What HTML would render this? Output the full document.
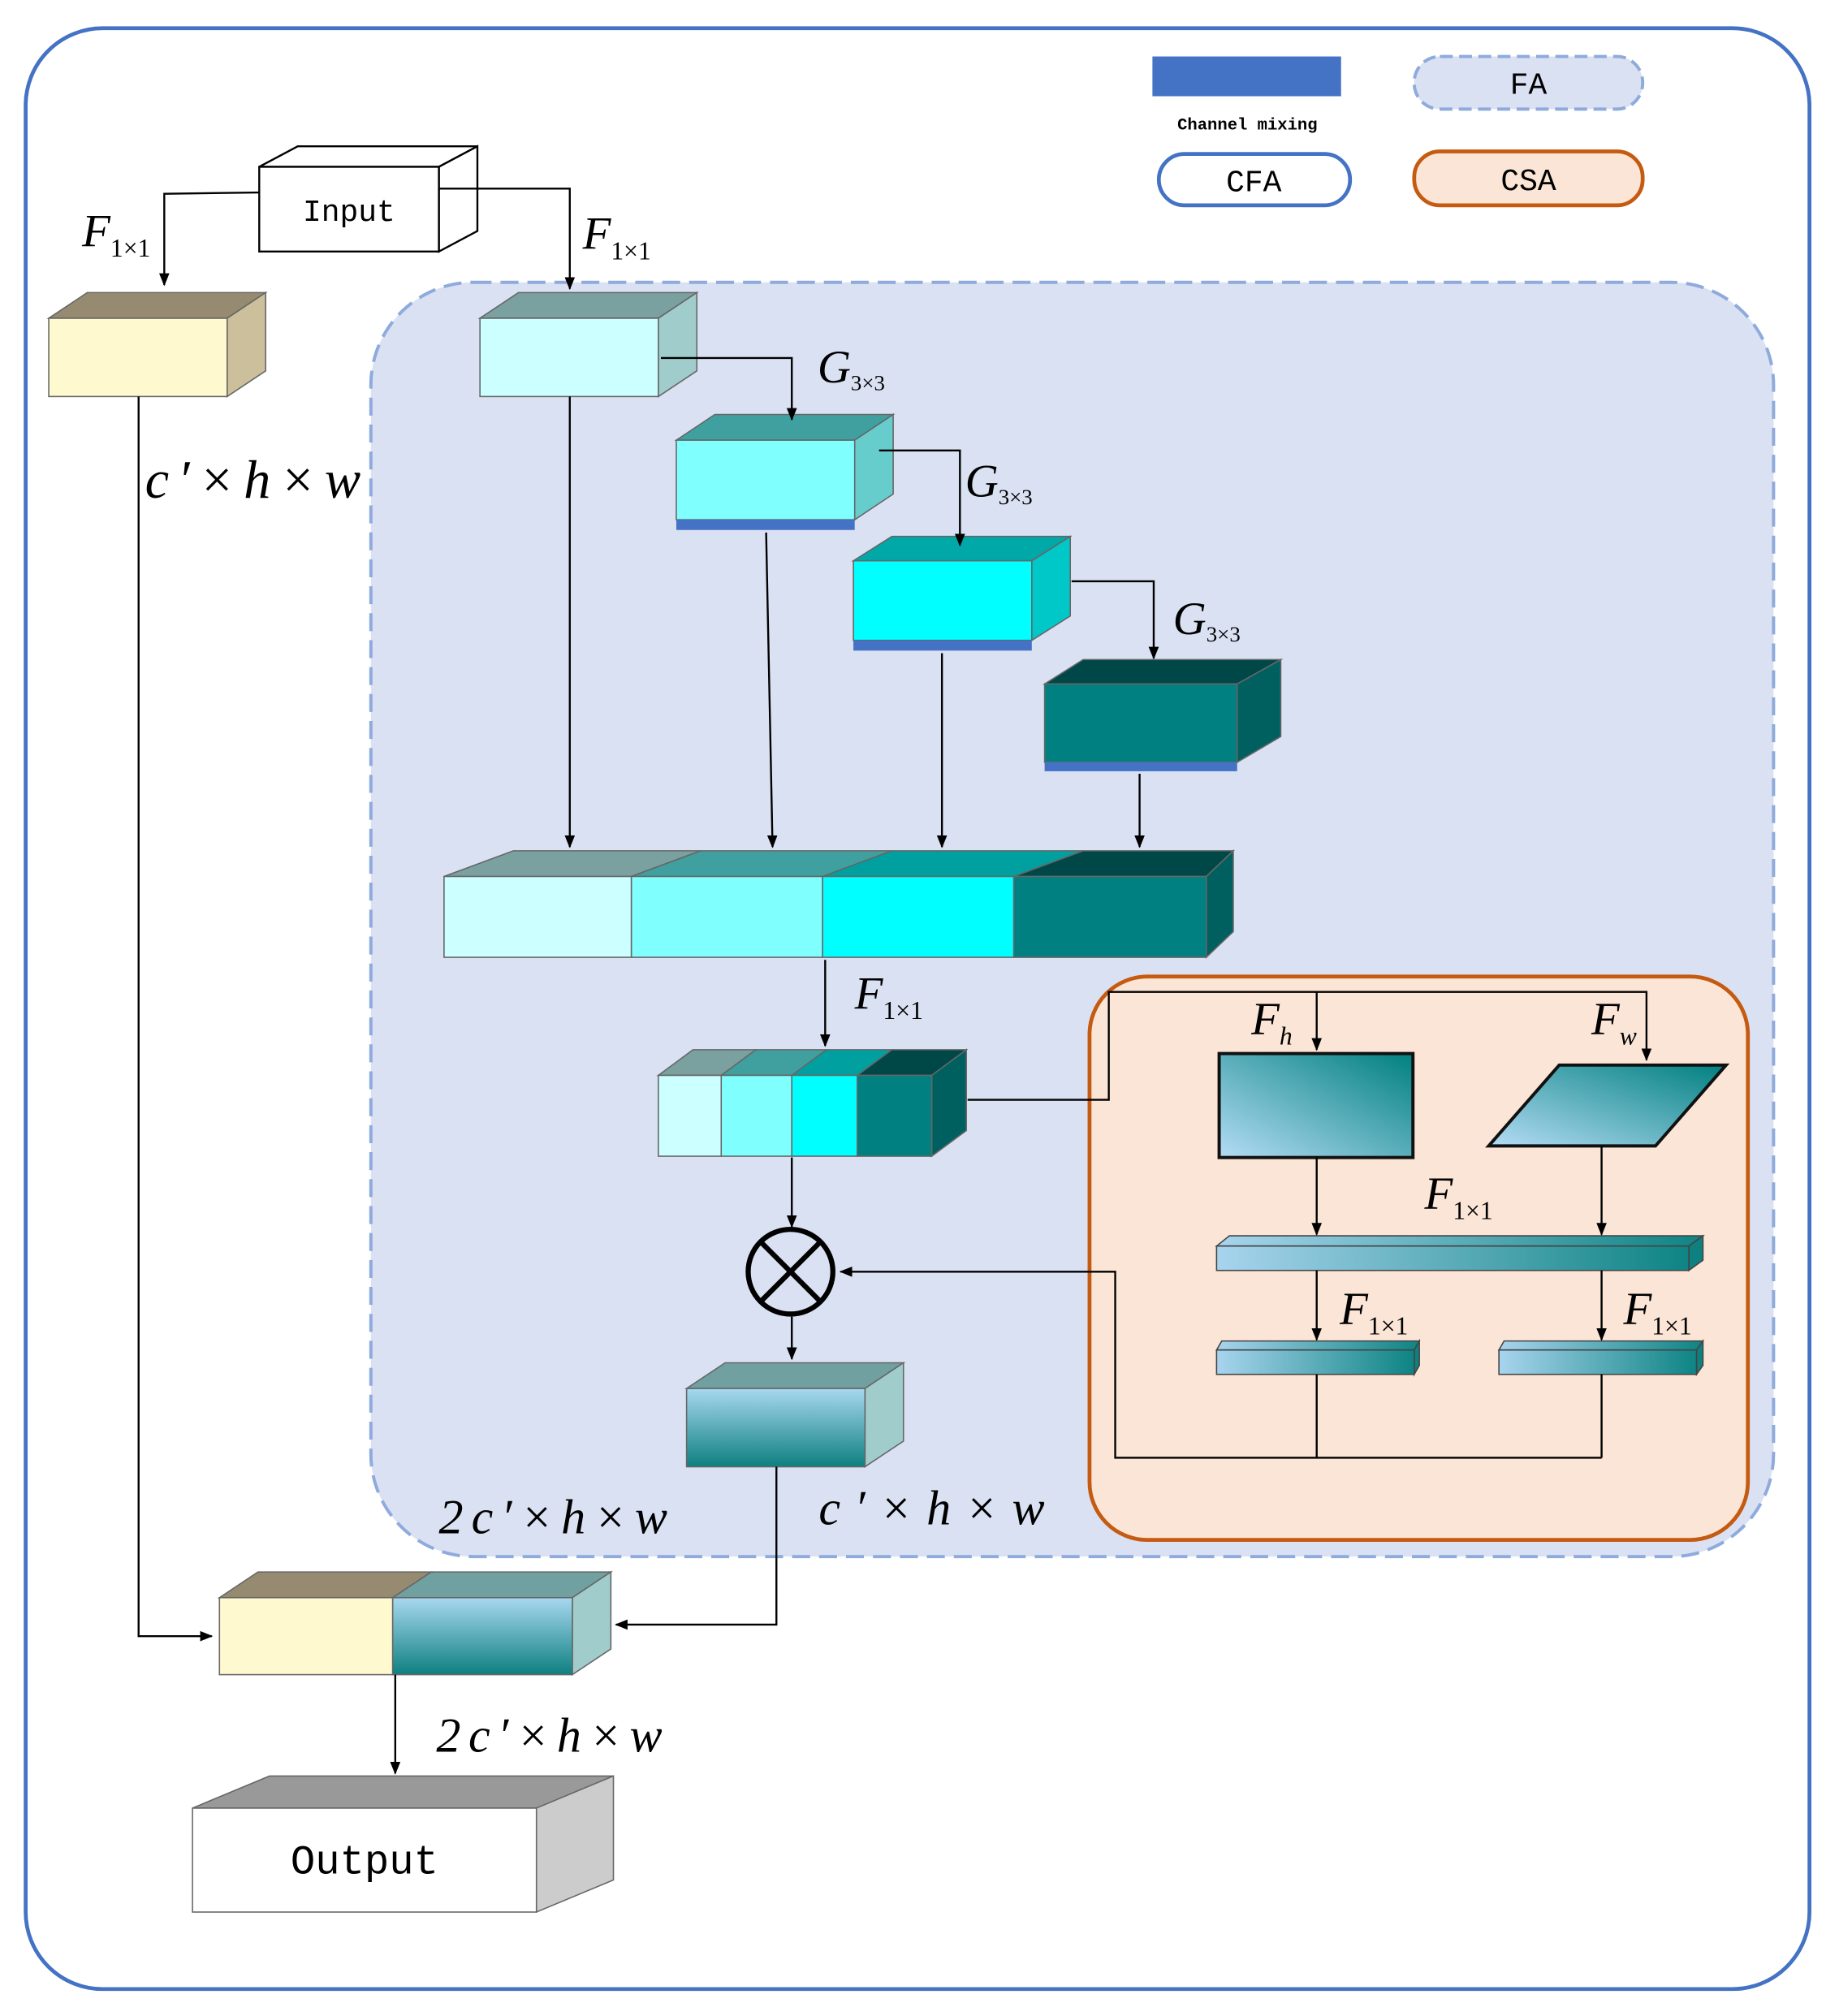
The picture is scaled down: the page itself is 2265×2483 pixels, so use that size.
<!DOCTYPE html>
<html><head><meta charset="utf-8"><style>html,body{margin:0;padding:0;background:#fff}svg{display:block}</style></head>
<body>
<svg width="2265" height="2483" viewBox="0 0 1433 1571" preserveAspectRatio="none" xmlns="http://www.w3.org/2000/svg" font-family="Liberation Serif, serif">
<defs>
<marker id="a" markerWidth="10" markerHeight="10" refX="9" refY="5" orient="auto" markerUnits="userSpaceOnUse"><path d="M0,1 L10,5 L0,9 z" fill="#000"/></marker>
<linearGradient id="gd" x1="0" y1="1" x2="1" y2="0"><stop offset="0" stop-color="#b4dcf5"/><stop offset="1" stop-color="#008080"/></linearGradient>
<linearGradient id="gh" x1="0" y1="0" x2="1" y2="0"><stop offset="0" stop-color="#a8d4ee"/><stop offset="1" stop-color="#0e8484"/></linearGradient>
<linearGradient id="gv" x1="0" y1="0" x2="0" y2="1"><stop offset="0" stop-color="#a8d8f0"/><stop offset="1" stop-color="#0e8080"/></linearGradient>
</defs>
<rect width="1433" height="1571" fill="#fff"/>
<rect x="20" y="22" width="1390" height="1528" rx="60" fill="#fff" stroke="#4472c4" stroke-width="3"/>
<!-- legend -->
<rect x="898" y="44" width="147" height="31" fill="#4472c4"/>
<text x="972" y="101" font-family="Liberation Mono, monospace" font-size="13" font-weight="bold" text-anchor="middle">Channel mixing</text>
<rect x="1102" y="44" width="178" height="41" rx="20" fill="#d9e1f2" stroke="#8faadc" stroke-width="2.5" stroke-dasharray="10,5"/>
<text x="1191" y="73" font-size="24" text-anchor="middle" font-family="Liberation Mono, monospace">FA</text>
<rect x="903" y="120" width="149" height="40" rx="20" fill="#fff" stroke="#4472c4" stroke-width="3"/>
<text x="977" y="149" font-size="24" text-anchor="middle" font-family="Liberation Mono, monospace">CFA</text>
<rect x="1102" y="118" width="178" height="42" rx="20" fill="#fbe5d6" stroke="#c55a11" stroke-width="3"/>
<text x="1191" y="148" font-size="24" text-anchor="middle" font-family="Liberation Mono, monospace">CSA</text>
<!-- regions -->
<rect x="289" y="220" width="1093" height="993" rx="80" fill="#dae1f3" stroke="#8faadc" stroke-width="2.5" stroke-dasharray="14,7"/>
<rect x="849" y="761" width="513" height="439" rx="45" fill="#fbe5d6" stroke="#c55a11" stroke-width="3"/>
<!-- input -->
<g stroke="#000" stroke-width="1.5">
<polygon points="202,130 232,114 372,114 342,130" fill="#fff"/>
<polygon points="342,130 372,114 372,180 342,196" fill="#fff"/>
<rect x="202" y="130" width="140" height="66" fill="#fff"/>
</g>
<text x="272" y="172" font-size="24" text-anchor="middle" font-family="Liberation Mono, monospace">Input</text>
<g stroke="#666" stroke-width="1">
<polygon points="38,248 68,228 207,228 177,248" fill="#968b70"/>
<polygon points="177,248 207,228 207,289 177,309" fill="#cbbf9c"/>
<rect x="38" y="248" width="139" height="61" fill="#fff9d0"/>
<polygon points="374,248 404,228 543,228 513,248" fill="#7aa0a0"/>
<polygon points="513,248 543,228 543,289 513,309" fill="#a0cccc"/>
<rect x="374" y="248" width="139" height="61" fill="#ccffff"/>
<polygon points="527,343 557,323 696,323 666,343" fill="#40a0a0"/>
<polygon points="666,343 696,323 696,385 666,405" fill="#66cccc"/>
<rect x="527" y="343" width="139" height="62" fill="#80ffff"/>
<polygon points="665,437 695,418 834,418 804,437" fill="#00a8a8"/>
<polygon points="804,437 834,418 834,480 804,499" fill="#00c8c8"/>
<rect x="665" y="437" width="139" height="62" fill="#00ffff"/>
<polygon points="814,533 844,514 998,514 964,533" fill="#004848"/>
<polygon points="964,533 998,514 998,574 964,594" fill="#006060"/>
<rect x="814" y="533" width="150" height="61" fill="#008080"/>
</g>
<rect x="527" y="405" width="139" height="8" fill="#4472c4"/>
<rect x="665" y="499" width="139" height="8" fill="#4472c4"/>
<rect x="814" y="594" width="150" height="7" fill="#4472c4"/>
<g stroke="#666" stroke-width="1">
<polygon points="346,683 400,663 546,663 492,683" fill="#7aa0a0"/>
<polygon points="492,683 546,663 695,663 641,683" fill="#40a0a0"/>
<polygon points="641,683 695,663 844,663 790,683" fill="#00a0a0"/>
<polygon points="790,683 844,663 961,663 940,683" fill="#004848"/>
<polygon points="940,683 961,663 961,726 940,746" fill="#006060"/>
<rect x="346" y="683" width="146" height="63" fill="#ccffff"/>
<rect x="492" y="683" width="149" height="63" fill="#80ffff"/>
<rect x="641" y="683" width="149" height="63" fill="#00ffff"/>
<rect x="790" y="683" width="150" height="63" fill="#008080"/>
<polygon points="513,838 540,818 589,818 562,838" fill="#7aa0a0"/>
<polygon points="562,838 589,818 644,818 617,838" fill="#40a0a0"/>
<polygon points="617,838 644,818 695,818 668,838" fill="#00a0a0"/>
<polygon points="668,838 695,818 753,818 726,838" fill="#004848"/>
<polygon points="726,838 753,818 753,881 726,901" fill="#006060"/>
<rect x="513" y="838" width="49" height="63" fill="#ccffff"/>
<rect x="562" y="838" width="55" height="63" fill="#80ffff"/>
<rect x="617" y="838" width="51" height="63" fill="#00ffff"/>
<rect x="668" y="838" width="58" height="63" fill="#008080"/>
<polygon points="535,1082 565,1062 704,1062 674,1082" fill="#70a0a0"/>
<polygon points="674,1082 704,1062 704,1123 674,1143" fill="#a0cccc"/>
<rect x="535" y="1082" width="139" height="61" fill="url(#gv)"/>
<polygon points="171,1245 201,1225 336,1225 306,1245" fill="#968b70"/>
<polygon points="306,1245 336,1225 476,1225 446,1245" fill="#70a0a0"/>
<polygon points="446,1245 476,1225 476,1285 446,1305" fill="#a0cccc"/>
<rect x="171" y="1245" width="135" height="60" fill="#fff9d0"/>
<rect x="306" y="1245" width="140" height="60" fill="url(#gv)"/>
<polygon points="150,1409 210,1384 478,1384 418,1409" fill="#999"/>
<polygon points="418,1409 478,1384 478,1465 418,1490" fill="#ccc"/>
<rect x="150" y="1409" width="268" height="81" fill="#fff"/>
</g>
<text x="284" y="1460" font-size="32" text-anchor="middle" font-family="Liberation Mono, monospace">Output</text>
<rect x="950" y="821" width="151" height="81" fill="url(#gd)" stroke="#111" stroke-width="2.5"/>
<polygon points="1160,893 1215,830 1345,830 1290,893" fill="url(#gd)" stroke="#111" stroke-width="2.5"/>
<g stroke="#444" stroke-width="1">
<polygon points="948,971 958,963 1327,963 1316,971" fill="url(#gh)"/>
<polygon points="1316,971 1327,963 1327,982 1316,990" fill="#0e8080"/>
<rect x="948" y="971" width="368" height="19" fill="url(#gh)"/>
<polygon points="948,1052 952,1045 1106,1045 1102,1052" fill="url(#gh)"/>
<polygon points="1102,1052 1106,1045 1106,1064 1102,1071" fill="#0e8080"/>
<rect x="948" y="1052" width="154" height="19" fill="url(#gh)"/>
<polygon points="1168,1052 1172,1045 1327,1045 1322,1052" fill="url(#gh)"/>
<polygon points="1322,1052 1327,1045 1327,1064 1322,1071" fill="#0e8080"/>
<rect x="1168" y="1052" width="154" height="19" fill="url(#gh)"/>
</g>
<circle cx="616" cy="991" r="33" fill="none" stroke="#000" stroke-width="4"/>
<line x1="593" y1="968" x2="639" y2="1014" stroke="#000" stroke-width="4"/>
<line x1="639" y1="968" x2="593" y2="1014" stroke="#000" stroke-width="4"/>
<g fill="none" stroke="#000" stroke-width="1.5">
<polyline points="202,150 128,151 128,222" marker-end="url(#a)"/>
<polyline points="342,147 444,147 444,225" marker-end="url(#a)"/>
<polyline points="108,309 108,1275 165,1275" marker-end="url(#a)"/>
<polyline points="515,279 617,279 617,327" marker-end="url(#a)"/>
<polyline points="685,351 748,351 748,425" marker-end="url(#a)"/>
<polyline points="835,453 899,453 899,513" marker-end="url(#a)"/>
<line x1="444" y1="309" x2="444" y2="660" marker-end="url(#a)"/>
<line x1="597" y1="415" x2="602" y2="660" marker-end="url(#a)"/>
<line x1="734" y1="509" x2="734" y2="660" marker-end="url(#a)"/>
<line x1="888" y1="603" x2="888" y2="660" marker-end="url(#a)"/>
<line x1="643" y1="748" x2="643" y2="815" marker-end="url(#a)"/>
<polyline points="754,857 864,857 864,773 1283,773 1283,826" marker-end="url(#a)"/>
<line x1="1026" y1="773" x2="1026" y2="818" marker-end="url(#a)"/>
<line x1="617" y1="902" x2="617" y2="956" marker-end="url(#a)"/>
<line x1="617" y1="1026" x2="617" y2="1059" marker-end="url(#a)"/>
<line x1="1026" y1="902" x2="1026" y2="962" marker-end="url(#a)"/>
<line x1="1248" y1="893" x2="1248" y2="962" marker-end="url(#a)"/>
<line x1="1026" y1="990" x2="1026" y2="1044" marker-end="url(#a)"/>
<line x1="1248" y1="990" x2="1248" y2="1044" marker-end="url(#a)"/>
<line x1="1026" y1="1071" x2="1026" y2="1136"/>
<line x1="1248" y1="1071" x2="1248" y2="1136"/>
<polyline points="1248,1136 869,1136 869,991 655,991" marker-end="url(#a)"/>
<polyline points="605,1143 605,1266 480,1266" marker-end="url(#a)"/>
<line x1="308" y1="1305" x2="308" y2="1382" marker-end="url(#a)"/>
</g>
<g font-style="italic" font-size="36">
<text x="64" y="192">F<tspan font-size="20" font-style="normal" dy="8">1×1</tspan></text>
<text x="454" y="194">F<tspan font-size="20" font-style="normal" dy="8">1×1</tspan></text>
<text x="637" y="298">G<tspan font-size="17" font-style="normal" dy="6">3×3</tspan></text>
<text x="752" y="387">G<tspan font-size="17" font-style="normal" dy="6">3×3</tspan></text>
<text x="914" y="494">G<tspan font-size="17" font-style="normal" dy="6">3×3</tspan></text>
<text x="666" y="786">F<tspan font-size="20" font-style="normal" dy="8">1×1</tspan></text>
<text x="975" y="806">F<tspan font-size="20" dy="8">h</tspan></text>
<text x="1240" y="806">F<tspan font-size="20" dy="8">w</tspan></text>
<text x="1110" y="942">F<tspan font-size="20" font-style="normal" dy="8">1×1</tspan></text>
<text x="1044" y="1032">F<tspan font-size="20" font-style="normal" dy="8">1×1</tspan></text>
<text x="1265" y="1032">F<tspan font-size="20" font-style="normal" dy="8">1×1</tspan></text>
<text x="113" y="388" font-size="42" textLength="168" lengthAdjust="spacing">c′×h×w</text>
<text x="342" y="1195" font-size="38" textLength="178" lengthAdjust="spacing">2c′×h×w</text>
<text x="638" y="1188" font-size="38" textLength="176" lengthAdjust="spacing">c′×h×w</text>
<text x="340" y="1365" font-size="38" textLength="176" lengthAdjust="spacing">2c′×h×w</text>
</g>
</svg>
</body></html>
